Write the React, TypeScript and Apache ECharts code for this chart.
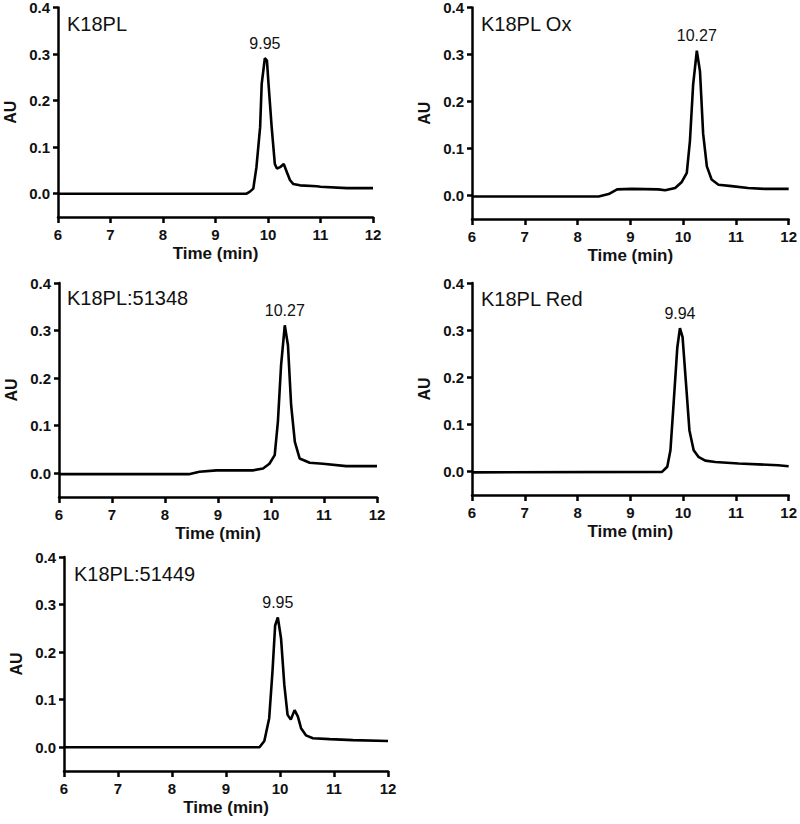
import React, { useEffect, useRef } from "react";
import * as echarts from "echarts";

// ---- data (time in min, absorbance in AU) ----
const panelNames = ["K18PL", "K18PL Ox", "K18PL:51348", "K18PL Red", "K18PL:51449"];
const peakLabels = ["9.95", "10.27", "10.27", "9.94", "9.95"];

const k18plTime = [6, 9.59, 9.65, 9.72, 9.78, 9.85, 9.88, 9.94, 9.98, 10.01, 10.07, 10.13, 10.17, 10.23, 10.3, 10.36, 10.42, 10.48, 10.61, 10.93, 11.0, 11.5, 12];
const k18plAU = [0, 0, 0.004, 0.011, 0.057, 0.143, 0.236, 0.291, 0.286, 0.236, 0.143, 0.064, 0.054, 0.057, 0.064, 0.046, 0.029, 0.021, 0.018, 0.016, 0.015, 0.012, 0.012];

const k18plOxTime = [6, 8.4, 8.59, 8.75, 9.03, 9.53, 9.66, 9.85, 9.97, 10.07, 10.13, 10.19, 10.26, 10.32, 10.38, 10.45, 10.54, 10.67, 10.92, 11.23, 11.55, 12];
const k18plOxAU = [-0.002, -0.002, 0.003, 0.013, 0.014, 0.013, 0.011, 0.016, 0.028, 0.048, 0.117, 0.236, 0.308, 0.264, 0.131, 0.062, 0.034, 0.023, 0.02, 0.016, 0.014, 0.014];

const k18pl51348Time = [6, 8.45, 8.65, 8.97, 9.28, 9.66, 9.85, 9.97, 10.07, 10.13, 10.19, 10.26, 10.32, 10.38, 10.45, 10.54, 10.73, 10.98, 11.42, 12];
const k18pl51348AU = [-0.002, -0.002, 0.003, 0.006, 0.006, 0.006, 0.01, 0.02, 0.038, 0.108, 0.227, 0.311, 0.269, 0.143, 0.066, 0.031, 0.022, 0.02, 0.015, 0.015];

const k18plRedTime = [6, 9.6, 9.7, 9.76, 9.82, 9.89, 9.94, 9.99, 10.06, 10.12, 10.2, 10.29, 10.42, 10.61, 11.05, 11.8, 12];
const k18plRedAU = [-0.002, -0.001, 0.01, 0.045, 0.144, 0.263, 0.304, 0.285, 0.179, 0.087, 0.045, 0.031, 0.023, 0.02, 0.017, 0.013, 0.011];

const k18pl51449Time = [6, 9.62, 9.71, 9.8, 9.86, 9.91, 9.96, 10.02, 10.08, 10.14, 10.2, 10.27, 10.33, 10.39, 10.48, 10.61, 10.92, 11.35, 12];
const k18pl51449AU = [0, 0, 0.013, 0.061, 0.158, 0.256, 0.273, 0.228, 0.131, 0.068, 0.058, 0.078, 0.065, 0.04, 0.025, 0.019, 0.017, 0.015, 0.013];

const seriesTimes = [k18plTime, k18plOxTime, k18pl51348Time, k18plRedTime, k18pl51449Time];
const seriesValues = [k18plAU, k18plOxAU, k18pl51348AU, k18plRedAU, k18pl51449AU];

const xTicks = [6, 7, 8, 9, 10, 11, 12];
const yTicks = [0, 0.1, 0.2, 0.3, 0.4];

// ---- layout ----
const grids = [
  { left: 58, top: 7, width: 315, height: 210 },
  { left: 472, top: 6, width: 319, height: 213 },
  { left: 59, top: 283, width: 318, height: 214 },
  { left: 472, top: 283, width: 319, height: 212 },
  { left: 64, top: 557, width: 324, height: 214 },
];
const titlePos = [
  { left: 67, top: 14 },
  { left: 481, top: 14 },
  { left: 67, top: 288 },
  { left: 481, top: 289 },
  { left: 74, top: 564 },
];

const FONT = "'Liberation Sans', Arial, sans-serif";

export default function App() {
  const ref = useRef<HTMLDivElement>(null);
  useEffect(() => {
    if (!ref.current) return;
    const chart = echarts.init(ref.current, null, { renderer: "svg" });
    const axisLine = { lineStyle: { color: "#000", width: 2.5 } };
    const option: any = {
      animation: false,
      backgroundColor: "#fff",
      title: panelNames.map((n, i) => ({
        text: n,
        left: titlePos[i].left,
        top: titlePos[i].top,
        padding: 0,
        textStyle: { fontFamily: FONT, fontSize: 20, fontWeight: "normal", color: "#111" },
      })),
      grid: grids.map((g) => ({ ...g, containLabel: false })),
      xAxis: grids.map((_, i) => ({
        type: "value",
        gridIndex: i,
        min: 6,
        max: 12,
        interval: 1,
        name: "Time (min)",
        nameLocation: "middle",
        nameGap: 28,
        nameTextStyle: { fontFamily: FONT, fontSize: 17, fontWeight: "bold", color: "#111" },
        axisLine: { ...axisLine, onZero: false },
        axisTick: { show: true, length: 6, inside: false, lineStyle: { color: "#000", width: 2.5 }, customValues: xTicks },
        axisLabel: { fontFamily: FONT, fontSize: 15, fontWeight: "bold", color: "#111", margin: 10, customValues: xTicks },
        splitLine: { show: false },
      })),
      yAxis: grids.map((_, i) => ({
        type: "value",
        gridIndex: i,
        min: -0.05,
        max: 0.4,
        name: "AU",
        nameLocation: "middle",
        nameGap: 40,
        nameTextStyle: { fontFamily: FONT, fontSize: 16, fontWeight: "bold", color: "#111" },
        axisLine: { ...axisLine, onZero: false },
        axisTick: { show: true, length: 5, inside: false, lineStyle: { color: "#000", width: 2.5 }, customValues: yTicks },
        axisLabel: {
          fontFamily: FONT,
          fontSize: 15,
          fontWeight: "bold",
          color: "#111",
          margin: 8,
          customValues: yTicks,
          formatter: (v: number) => v.toFixed(1),
        },
        splitLine: { show: false },
      })),
      series: seriesTimes.map((ts, i) => ({
        type: "line",
        xAxisIndex: i,
        yAxisIndex: i,
        data: ts.map((t, j) => [t, seriesValues[i][j]]),
        showSymbol: false,
        symbol: "none",
        lineStyle: { color: "#000", width: 2.6 },
        markPoint: {
          symbol: "circle",
          symbolSize: 0,
          data: [{ type: "max", valueDim: "y" }],
          label: {
            show: true,
            position: "top",
            distance: 7,
            formatter: () => peakLabels[i],
            fontFamily: FONT,
            fontSize: 16,
            color: "#111",
          },
        },
      })),
    };
    chart.setOption(option);
    return () => chart.dispose();
  }, []);
  return (
    <div
      ref={ref}
      style={{ position: "absolute", left: 0, top: 0, width: 800, height: 824, background: "#fff" }}
    />
  );
}
